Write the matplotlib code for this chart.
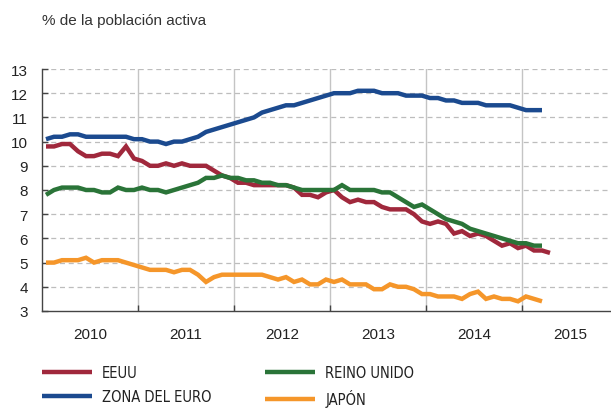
import matplotlib
matplotlib.use("Agg")
import matplotlib.pyplot as plt
from matplotlib.font_manager import FontProperties
import numpy as np

# Monthly unemployment rates, starting January 2010
eeuu = [9.8, 9.8, 9.9, 9.9, 9.6, 9.4, 9.4, 9.5, 9.5, 9.4, 9.8, 9.3,
        9.2, 9.0, 9.0, 9.1, 9.0, 9.1, 9.0, 9.0, 9.0, 8.8, 8.6, 8.5,
        8.3, 8.3, 8.2, 8.2, 8.2, 8.2, 8.2, 8.1, 7.8, 7.8, 7.7, 7.9,
        8.0, 7.7, 7.5, 7.6, 7.5, 7.5, 7.3, 7.2, 7.2, 7.2, 7.0, 6.7,
        6.6, 6.7, 6.6, 6.2, 6.3, 6.1, 6.2, 6.1, 5.9, 5.7, 5.8, 5.6,
        5.7, 5.5, 5.5, 5.4]
zona_euro = [10.1, 10.2, 10.2, 10.3, 10.3, 10.2, 10.2, 10.2, 10.2, 10.2, 10.2, 10.1,
             10.1, 10.0, 10.0, 9.9, 10.0, 10.0, 10.1, 10.2, 10.4, 10.5, 10.6, 10.7,
             10.8, 10.9, 11.0, 11.2, 11.3, 11.4, 11.5, 11.5, 11.6, 11.7, 11.8, 11.9,
             12.0, 12.0, 12.0, 12.1, 12.1, 12.1, 12.0, 12.0, 12.0, 11.9, 11.9, 11.9,
             11.8, 11.8, 11.7, 11.7, 11.6, 11.6, 11.6, 11.5, 11.5, 11.5, 11.5, 11.4,
             11.3, 11.3, 11.3]
reino_unido = [7.8, 8.0, 8.1, 8.1, 8.1, 8.0, 8.0, 7.9, 7.9, 8.1, 8.0, 8.0,
               8.1, 8.0, 8.0, 7.9, 8.0, 8.1, 8.2, 8.3, 8.5, 8.5, 8.6, 8.5,
               8.5, 8.4, 8.4, 8.3, 8.3, 8.2, 8.2, 8.1, 8.0, 8.0, 8.0, 8.0,
               8.0, 8.2, 8.0, 8.0, 8.0, 8.0, 7.9, 7.9, 7.7, 7.5, 7.3, 7.4,
               7.2, 7.0, 6.8, 6.7, 6.6, 6.4, 6.3, 6.2, 6.1, 6.0, 5.9, 5.8,
               5.8, 5.7, 5.7]
japon = [5.0, 5.0, 5.1, 5.1, 5.1, 5.2, 5.0, 5.1, 5.1, 5.1, 5.0, 4.9,
         4.8, 4.7, 4.7, 4.7, 4.6, 4.7, 4.7, 4.5, 4.2, 4.4, 4.5, 4.5,
         4.5, 4.5, 4.5, 4.5, 4.4, 4.3, 4.4, 4.2, 4.3, 4.1, 4.1, 4.3,
         4.2, 4.3, 4.1, 4.1, 4.1, 3.9, 3.9, 4.1, 4.0, 4.0, 3.9, 3.7,
         3.7, 3.6, 3.6, 3.6, 3.5, 3.7, 3.8, 3.5, 3.6, 3.5, 3.5, 3.4,
         3.6, 3.5, 3.4]

years = [2010, 2011, 2012, 2013, 2014, 2015]
series_labels = ["EEUU", "ZONA DEL EURO", "REINO UNIDO", "JAPÓN"]
colors = ["#A0283C", "#1B4A8F", "#2A7438", "#F5962A"]


def months(n):
    return 2010 + (np.arange(n) + 0.5) / 12.0


W, H = 611, 410
fig = plt.figure(figsize=(W / 100, H / 100), dpi=100)
ax_left, ax_right, ax_top, ax_bot = 42, 611, 70, 312
ax = fig.add_axes([ax_left / W, 1 - ax_bot / H, (ax_right - ax_left) / W, (ax_bot - ax_top) / H])

lw = 3.2
data = [eeuu, zona_euro, reino_unido, japon]
lines = {}
for lab, vals, col in zip(series_labels, data, colors):
    (ln,) = ax.plot(months(len(vals)), vals, color=col, lw=lw, solid_joinstyle="miter",
                    solid_capstyle="butt", label=lab, zorder=3)
    lines[lab] = ln

ax.set_xlim(2010, 2010 + (ax_right - ax_left) / 96.0)
ax.set_ylim(3, 13)

# grid
for y in range(4, 14):
    ax.axhline(y, color="#BDBDBD", lw=0.9, ls=(0, (4, 3)), zorder=1)
for yr in years[1:]:
    ax.axvline(yr, color="#C4C4C4", lw=1.0, zorder=1)

ax.set_yticks(range(3, 14))
ax.set_xticks(years[1:])
ax.set_xticklabels([])
ax.tick_params(axis="both", direction="in", length=4, width=1.0, color="#444444")
ax.tick_params(axis="y", labelsize=11, pad=10, labelcolor="#222222")
for lbl in ax.get_yticklabels():
    lbl.set_family("Liberation Sans")

# year labels centered between year boundaries
for yr in years:
    ax.text(yr + 0.5, -0.066, str(yr), transform=ax.get_xaxis_transform(),
            ha="center", va="top", fontsize=11, family="Liberation Sans", color="#222222")

for s in ["top", "right"]:
    ax.spines[s].set_visible(False)
for s in ["left", "bottom"]:
    ax.spines[s].set_color("#444444")
    ax.spines[s].set_linewidth(1.0)

fig.text(42 / W, 1 - 21 / H, "% de la población activa", ha="left", va="center",
         fontsize=11, family="Liberation Sans", color="#333333")

legend_font = FontProperties(family="DejaVu Sans", stretch="condensed", size=10.5)
cols = [(series_labels[:2], 42), (series_labels[2:], 265)]
for labs, x0 in cols:
    leg = fig.legend([lines[l] for l in labs], labs, loc="upper left",
                     bbox_to_anchor=(x0 / W, 1 - 366 / H), frameon=False,
                     prop=legend_font, handlelength=3.45, handletextpad=0.68,
                     labelspacing=0.62, borderpad=0, borderaxespad=0)
    for t in leg.get_texts():
        t.set_color("#222222")

fig.savefig("out.png", dpi=100)
